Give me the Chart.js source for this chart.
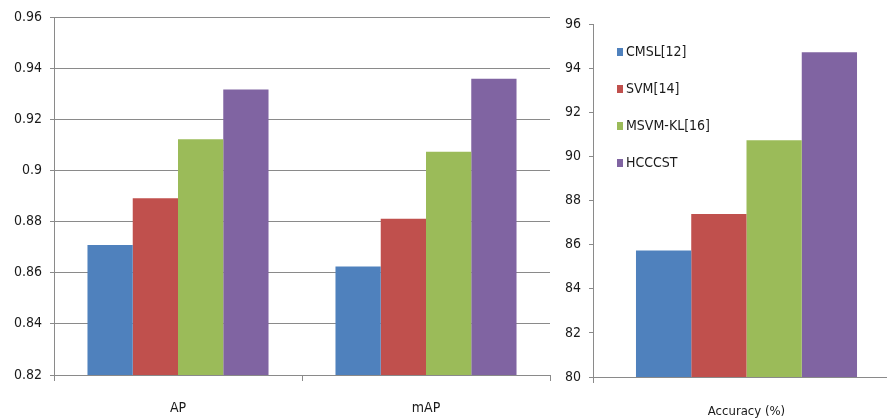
<!DOCTYPE html>
<html>
<head>
<meta charset="utf-8">
<script src="https://cdn.jsdelivr.net/npm/chart.js@4.4.1/dist/chart.umd.min.js"></script>
<style>
  html, body { margin: 0; padding: 0; width: 887px; height: 418px; overflow: hidden; background: #fff; }
  canvas { position: absolute; top: 0; }
  #retrieval { left: 0; }
  #accuracy { left: 556px; }
</style>
</head>
<body>
<canvas id="retrieval" width="560" height="418"></canvas>
<canvas id="accuracy" width="344" height="418"></canvas>
<script>
// Compared methods
const methods = ['CMSL[12]', 'SVM[14]', 'MSVM-KL[16]', 'HCCCST'];
const methodColors = ['#4F81BD', '#C0504D', '#9BBB59', '#8064A2'];

// Retrieval results (left panel)
const retrievalMetrics = ['AP', 'mAP'];
const apValues = [0.8708, 0.8891, 0.9122, 0.9316];
const mapValues = [0.8624, 0.8811, 0.9073, 0.9359];
const retrievalTicks = { min: 0.82, max: 0.96, step: 0.02 };

// Classification accuracy (right panel)
const accuracyMetrics = ['Accuracy (%)'];
const accuracyValues = [85.73, 87.39, 90.73, 94.72];
const accuracyTicks = { min: 80, max: 96, step: 2 };

const FONT = "'Liberation Sans Narrow', 'DejaVu Sans Condensed', 'Liberation Sans', sans-serif";
const AXIS_GREY = '#8a8a8a';

Chart.defaults.font.family = FONT;
Chart.defaults.color = '#1a1a1a';

const retrievalDatasets = methods.map((name, i) => ({
  label: name,
  data: [apValues[i], mapValues[i]],
  backgroundColor: methodColors[i],
  borderWidth: 0
}));

const accuracyDatasets = methods.map((name, i) => ({
  label: name,
  data: [accuracyValues[i]],
  backgroundColor: methodColors[i],
  borderWidth: 0
}));

// Legend drawn inside the plot area of the accuracy panel
const insideLegend = {
  id: 'insideLegend',
  afterDraw(chart, args, opts) {
    const ctx = chart.ctx;
    const left = chart.chartArea.left + opts.offsetX;
    ctx.save();
    ctx.font = opts.fontSize + 'px ' + FONT;
    ctx.textBaseline = 'middle';
    ctx.textAlign = 'left';
    chart.data.datasets.forEach((ds, i) => {
      const y = opts.top + i * opts.rowGap;
      ctx.fillStyle = ds.backgroundColor;
      ctx.fillRect(left, y - 4, 6, 8);
      ctx.fillStyle = '#1a1a1a';
      ctx.fillText(ds.label, left + 9, y);
    });
    ctx.restore();
  }
};

function yScale(t, showGrid, width) {
  return {
    min: t.min,
    max: t.max,
    afterFit(scale) { scale.width = width; },
    ticks: {
      stepSize: t.step,
      padding: 8,
      font: { size: 14 },
      callback: v => String(+v.toFixed(2))
    },
    grid: {
      drawOnChartArea: showGrid,
      drawTicks: true,
      tickLength: 4,
      color: AXIS_GREY,
      lineWidth: 1
    },
    border: { display: true, color: AXIS_GREY, width: 1 }
  };
}

function xScale(height, fontSize, pad) {
  return {
    afterFit(scale) { scale.height = height; },
    ticks: { padding: pad, font: { size: fontSize } },
    grid: {
      offset: true,
      drawOnChartArea: false,
      drawTicks: true,
      tickLength: 6,
      color: AXIS_GREY
    },
    border: { display: true, color: AXIS_GREY, width: 1 }
  };
}

new Chart(document.getElementById('retrieval'), {
  type: 'bar',
  data: { labels: retrievalMetrics, datasets: retrievalDatasets },
  options: {
    responsive: false,
    animation: false,
    devicePixelRatio: 1,
    layout: { padding: { top: 17, right: 10, left: 0, bottom: 0 } },
    datasets: { bar: { categoryPercentage: 0.73, barPercentage: 1 } },
    plugins: { legend: { display: false }, tooltip: { enabled: false } },
    scales: {
      x: xScale(43, 14, 19),
      y: yScale(retrievalTicks, true, 54)
    }
  }
});

new Chart(document.getElementById('accuracy'), {
  type: 'bar',
  data: { labels: accuracyMetrics, datasets: accuracyDatasets },
  options: {
    responsive: false,
    animation: false,
    devicePixelRatio: 1,
    layout: { padding: { top: 24, right: 0, left: 0, bottom: 0 } },
    datasets: { bar: { categoryPercentage: 0.72, barPercentage: 1 } },
    plugins: {
      legend: { display: false },
      tooltip: { enabled: false },
      insideLegend: { offsetX: 24, top: 52, rowGap: 37, fontSize: 14 }
    },
    scales: {
      x: xScale(41, 13, 21),
      y: yScale(accuracyTicks, false, 37)
    }
  },
  plugins: [insideLegend]
});
</script>
</body>
</html>
